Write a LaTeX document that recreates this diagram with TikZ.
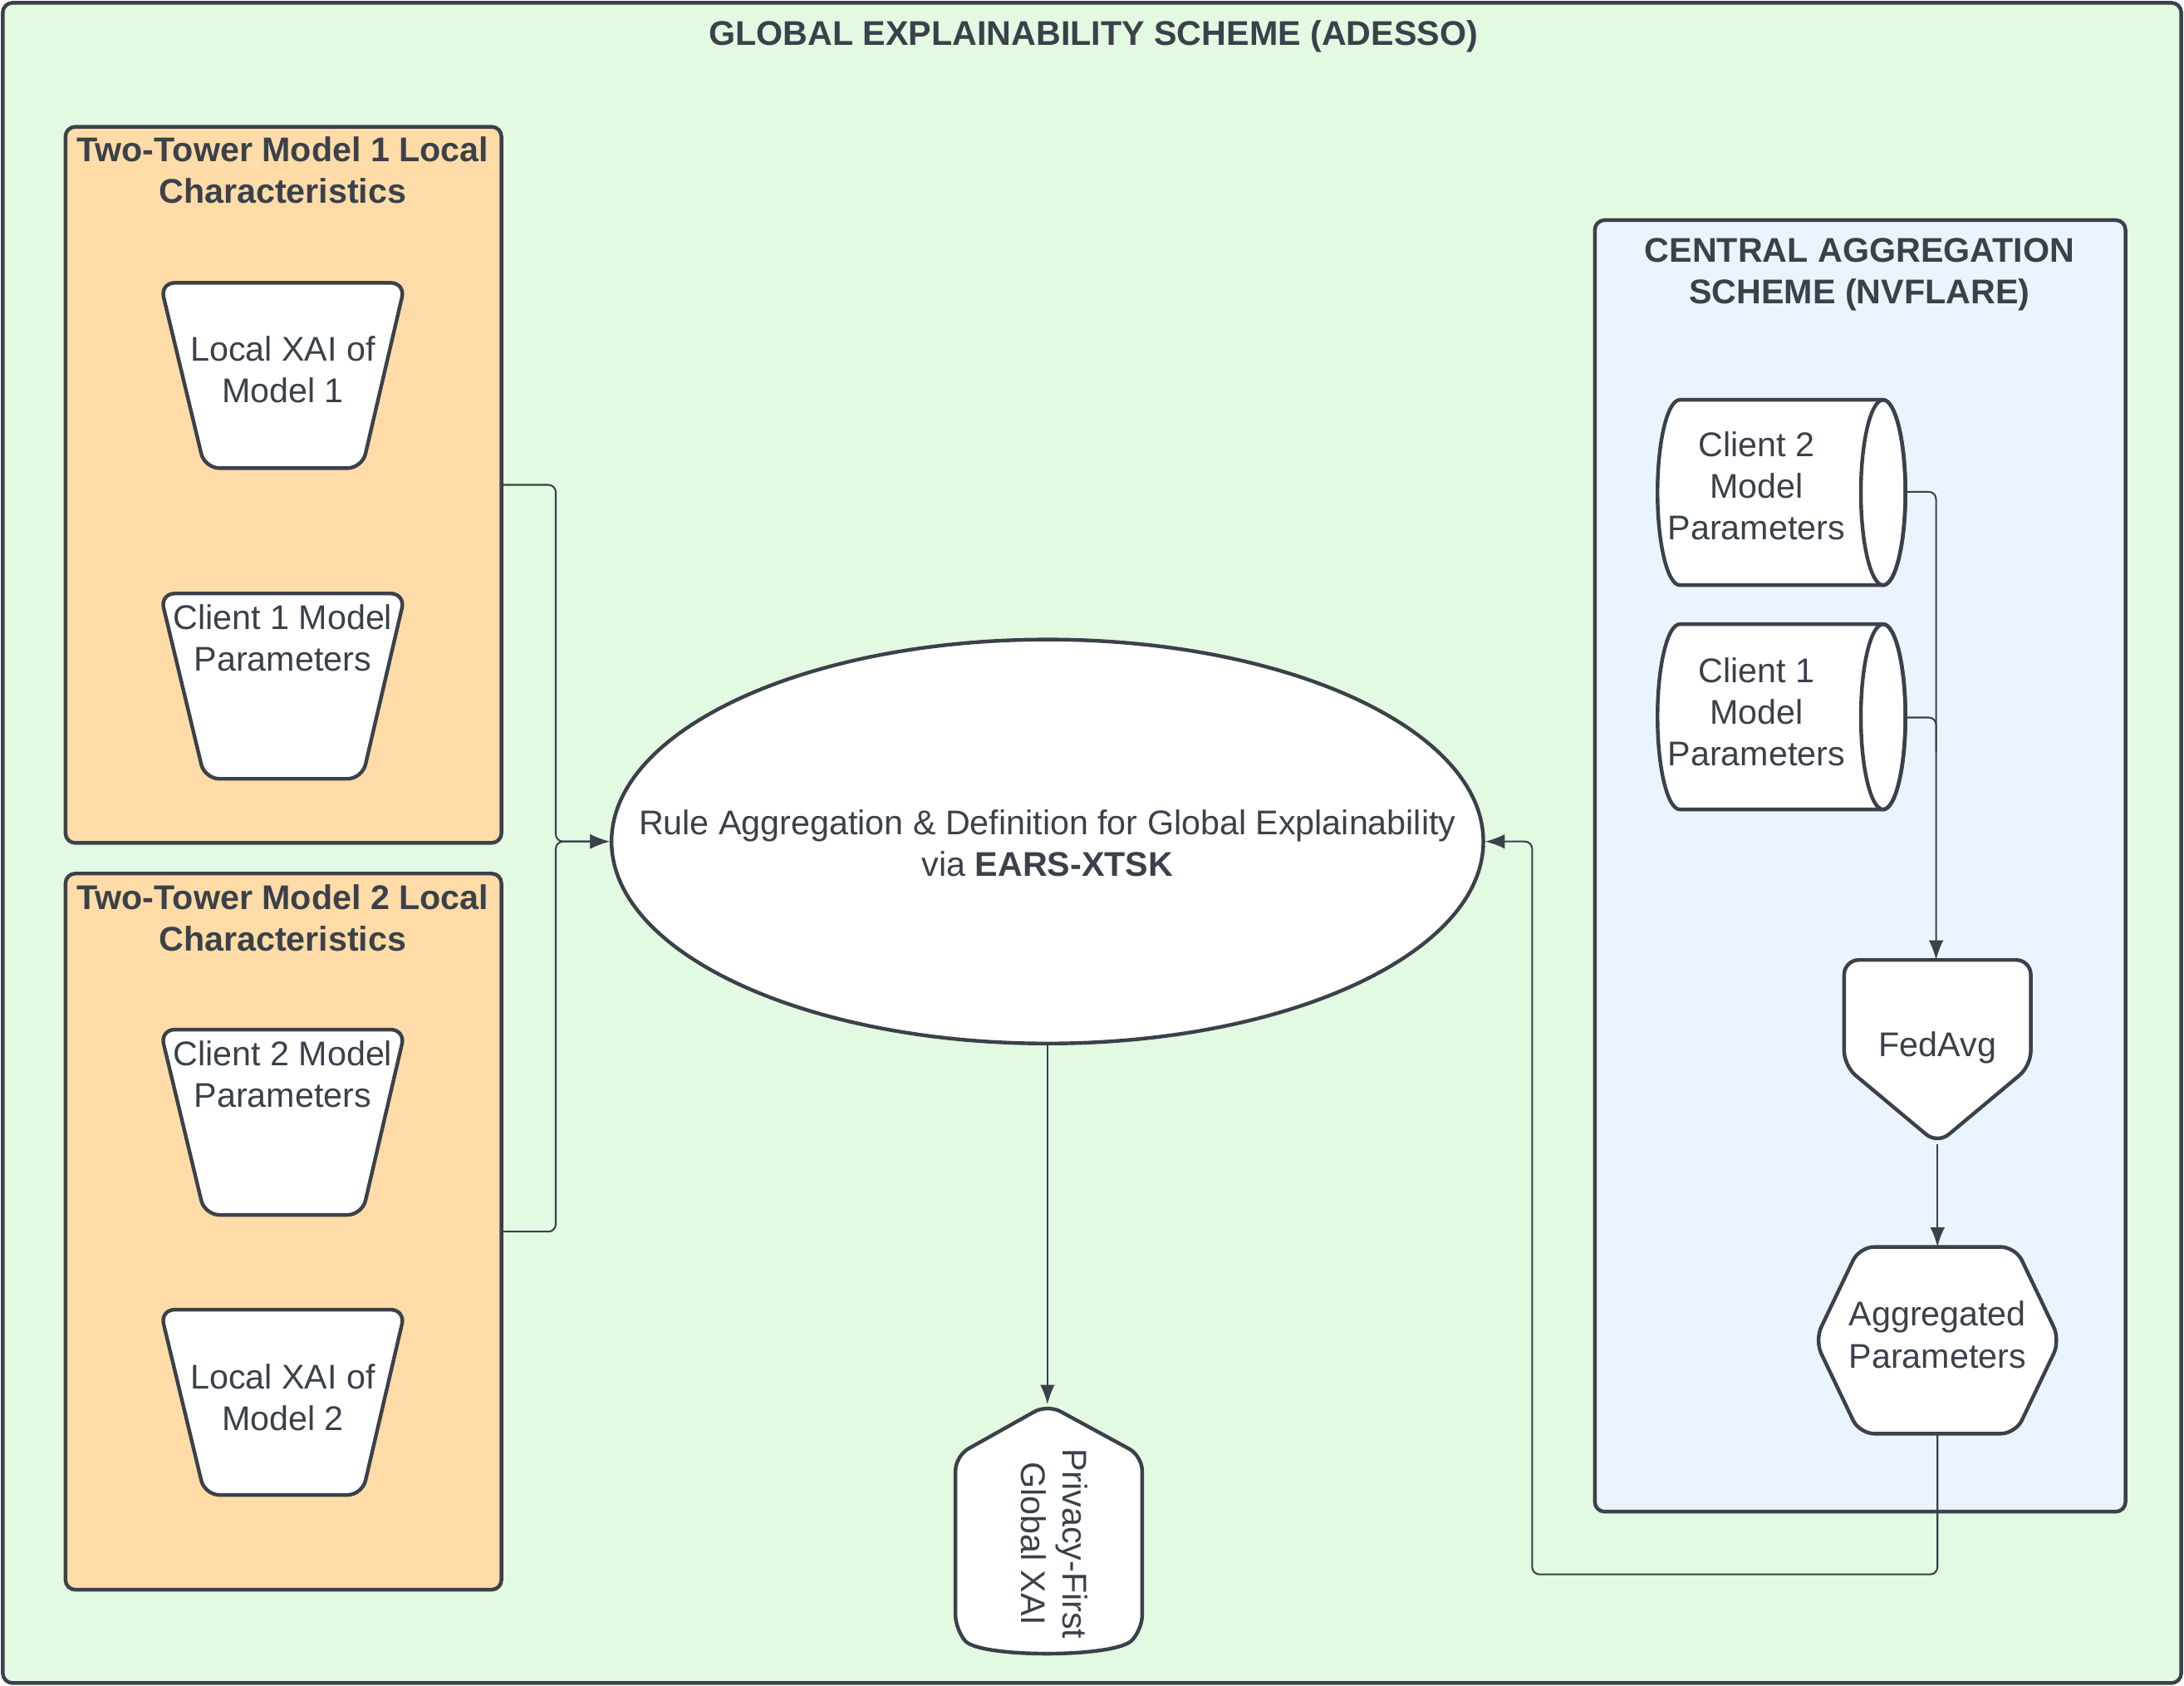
\documentclass[tikz,border=0pt]{standalone}
\usepackage{fontspec}
\setmainfont{Liberation Sans}
\usetikzlibrary{shapes.geometric,arrows.meta}
\definecolor{ink}{HTML}{3A414A}
\definecolor{bg}{HTML}{E2F9E2}
\definecolor{orng}{HTML}{FFDCA7}
\definecolor{blu}{HTML}{EBF4FD}
\begin{document}
\begin{tikzpicture}[x=0.02cm,y=-0.02cm,
  line width=1.3pt, draw=ink, text=ink,
  every node/.style={font=\fontsize{14}{17}\selectfont, text=ink, align=center},
  ttl/.style={font=\bfseries\fontsize{14}{17}\selectfont},
  box/.style={draw=ink, line width=1.5pt, rounded corners=4pt},
  shp/.style={draw=ink, fill=white, line width=1.5pt, rounded corners=6pt},
  conn/.style={draw=ink, line width=0.7pt, rounded corners=3pt},
  arr/.style={conn, -{Latex[length=8pt,width=6pt]}}]
\useasboundingbox (0,0) rectangle (1568,1210);
\draw[box, fill=bg] (2,2) rectangle (1566,1208);
\node[ttl] (title) at (785,26) {GLOBAL EXPLAINABILITY SCHEME (ADESSO)};
% orange boxes
\draw[box, fill=orng] (47,91) rectangle (360,605);
\coordinate (b1) at (360,348);
\node[ttl] (t1) at (203,122) {Two-Tower Model 1 Local\\Characteristics};
\draw[box, fill=orng] (47,627) rectangle (360,1141);
\coordinate (b2) at (360,884);
\node[ttl] (t2) at (203,659) {Two-Tower Model 2 Local\\Characteristics};
% trapezia
\foreach \y in {203,426,739,940} {
  \draw[shp] (115,\y) -- (291,\y) -- (260,\y+133) -- (147,\y+133) -- cycle;
}
\node (l1) at (203,265) {Local XAI of\\Model 1};
\node (l2) at (203,458) {Client 1 Model\\Parameters};
\node (l3) at (203,771) {Client 2 Model\\Parameters};
\node (l4) at (203,1003) {Local XAI of\\Model 2};
% ellipse
\node[draw=ink, fill=white, ellipse, minimum width=12.52cm, minimum height=5.8cm, line width=1.5pt] (ell) at (752,604) {};
\node (elt) at (752,605) {Rule Aggregation \& Definition for Global Explainability\\via \textbf{EARS-XTSK}};
% output shape
\draw[shp] (686,1045) -- (752,1008) -- (820,1045) -- (820,1170)
   .. controls (800,1190) and (704,1190) .. (686,1170) -- cycle;
\coordinate (out) at (752,1008);
\node[rotate=-90] (outt) at (757,1108) {Privacy-First\\Global XAI};
% left connectors
\draw[arr] (b1) -- (399,348) -- (399,604) -- (ell.west);
\draw[arr] (b2) -- (399,884) -- (399,604) -- (ell.west);
\draw[arr] (ell.south) -- (out);
% blue box
\draw[box, fill=blu] (1145,158) rectangle (1526,1085);
\node[ttl] (t3) at (1335,197) {CENTRAL AGGREGATION\\SCHEME (NVFLARE)};
% cylinders
\foreach \y in {287,448} {
  \draw[draw=ink, fill=white, line width=1.5pt] (1352,\y) -- (1206,\y)
     arc[start angle=90, end angle=270, x radius=0.32cm, y radius=1.33cm] -- (1352,\y+133)
     arc[start angle=-90, end angle=90, x radius=0.32cm, y radius=1.33cm];
  \draw[draw=ink, line width=1.5pt] (1352,\y+66.5) ellipse[x radius=0.32cm, y radius=1.33cm];
}
\coordinate (c2) at (1368,353);
\coordinate (c1) at (1368,515);
\node (c2t) at (1261,349) {Client 2\\Model\\Parameters};
\node (c1t) at (1261,511) {Client 1\\Model\\Parameters};
% fedavg
\draw[shp] (1324,689) -- (1458,689) -- (1458,765) -- (1391,821) -- (1324,765) -- cycle;
\coordinate (fa) at (1391,689);
\coordinate (fb) at (1391,821);
\node (fat) at (1391,752) {FedAvg};
% hexagon
\draw[shp] (1335,895) -- (1447,895) -- (1479,962) -- (1447,1029) -- (1335,1029) -- (1303,962) -- cycle;
\coordinate (ha) at (1391,895);
\coordinate (hb) at (1391,1029);
\node (ht) at (1391,958) {Aggregated\\Parameters};
% right connectors
\draw[arr] (c2) -- (1390,353) -- (1390,689);
\draw[conn] (c1) -- (1390,515) -- (1390,540);
\draw[arr] (fb) -- (ha);
\draw[arr] (hb) -- (1391,1130) -- (1100,1130) -- (1100,604) -- (ell.east);
\end{tikzpicture}
\end{document}
